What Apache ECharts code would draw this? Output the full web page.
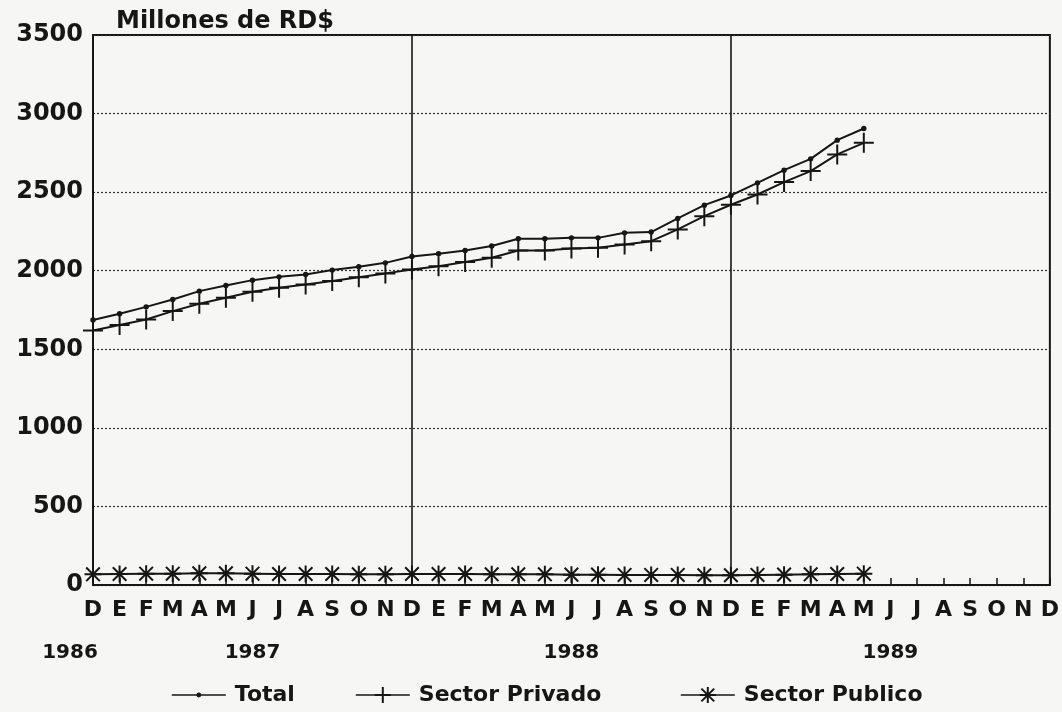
<!DOCTYPE html>
<html>
<head>
<meta charset="utf-8">
<script src="https://cdn.jsdelivr.net/npm/echarts@6/dist/echarts.min.js"></script>
<style>
  html, body { margin: 0; padding: 0; background: #f6f6f4; }
  #chart { width: 1062px; height: 712px; }
</style>
</head>
<body>
<div id="chart"></div>
<script>
// Month labels: Dec 1986, then Jan–Dec 1987, 1988, 1989 (Spanish initials)
const months = ['D','E','F','M','A','M','J','J','A','S','O','N','D',
                'E','F','M','A','M','J','J','A','S','O','N','D',
                'E','F','M','A','M','J','J','A','S','O','N','D'];
const yearLabels = ['1986','','','','','','1987','','','','','','',
                    '','','','','','1988','','','','','','',
                    '','','','','','1989','','','','','',''];
const yTicks = [0, 500, 1000, 1500, 2000, 2500, 3000, 3500];

const total = [1686,1726,1770,1817,1870,1906,1940,1961,1976,2004,2025,2050,2090,
               2108,2129,2157,2203,2203,2209,2209,2241,2246,2333,2417,2479,
               2559,2640,2712,2831,2905];
const privado = [1620,1654,1690,1743,1790,1828,1866,1891,1913,1934,1959,1983,2008,
                 2029,2055,2082,2129,2129,2142,2146,2167,2188,2263,2347,2420,
                 2485,2564,2634,2740,2814];
const publico = [68,70,72,72,74,74,72,70,70,70,68,68,70,
                 70,70,68,68,68,66,66,64,64,64,62,62,
                 64,66,68,70,72];
const seriesNames = ['Total', 'Sector Privado', 'Sector Publico'];
const dividers = [12, 24];

const INK = '#161616';
const FONT = '"DejaVu Sans", "Liberation Sans", Arial, sans-serif';

const dotPath = 'path://M-1,-1 M1,1 M-0.3,0 A0.3,0.3 0 1 0 0.3,0 A0.3,0.3 0 1 0 -0.3,0 Z';
const plusPath = 'path://M0,-1 L0,1 M-1,0 L1,0';
const starPath = 'path://M0,-1 L0,1 M-0.8,-0.8 L0.8,0.8 M-0.8,0.8 L0.8,-0.8 M-1,0 L1,0';

const legendLefts = [166, 350, 675];
function makeLegend(name, i) {
  return {
    top: 679, left: legendLefts[i],
    itemWidth: 54, itemHeight: 20,
    lineStyle: { width: 1.6 },
    textStyle: { fontFamily: FONT, fontWeight: 'bold', fontSize: 22, color: INK, padding: [0, 0, 0, 4] },
    data: [name]
  };
}

const chart = echarts.init(document.getElementById('chart'), null, { renderer: 'canvas' });

chart.setOption({
  backgroundColor: '#f6f6f4',
  animation: false,
  title: {
    text: 'Millones de RD$',
    left: 111, top: 5,
    textStyle: { fontFamily: FONT, fontWeight: 'bold', fontSize: 24, color: INK }
  },
  grid: {
    left: 93, right: 12, top: 35, bottom: 127,
    show: true, borderColor: INK, borderWidth: 2, backgroundColor: 'transparent'
  },
  legend: seriesNames.map(makeLegend),
  xAxis: [{
    type: 'category',
    data: months,
    boundaryGap: false,
    axisLine: { show: true, lineStyle: { color: INK, width: 2 } },
    axisTick: { show: true, inside: true, length: 7, interval: 0, lineStyle: { color: INK, width: 1.5 } },
    axisLabel: { interval: 0, margin: 14, fontFamily: FONT, fontWeight: 'bold', fontSize: 22, color: INK },
    splitLine: { show: false }
  }, {
    type: 'category',
    data: yearLabels,
    boundaryGap: false,
    position: 'bottom',
    offset: 46,
    axisLine: { show: false },
    axisTick: { show: false },
    axisLabel: {
      interval: 0, margin: 12,
      formatter: function (v, i) { return i === 0 ? '{first|' + v + '}' : v; },
      fontFamily: FONT, fontWeight: 'bold', fontSize: 20, color: INK,
      rich: { first: { fontFamily: FONT, fontWeight: 'bold', fontSize: 20, color: INK, padding: [0, 46, 0, 0] } }
    },
    splitLine: { show: false }
  }],
  yAxis: {
    type: 'value',
    min: 0, max: 3500, interval: 500,
    axisLine: { show: true, lineStyle: { color: INK, width: 2 } },
    axisTick: { show: false },
    axisLabel: {
      margin: 10, fontFamily: FONT, fontWeight: 'bold', fontSize: 24, color: INK,
      formatter: function (v) { return yTicks.indexOf(v) >= 0 ? String(v) : ''; }
    },
    splitLine: { show: true, lineStyle: { color: '#333', width: 1.2, type: [2, 2] } }
  },
  series: [{
    name: seriesNames[0],
    type: 'line',
    data: total,
    symbol: dotPath, symbolSize: 18, symbolKeepAspect: true,
    itemStyle: { color: INK },
    lineStyle: { color: INK, width: 2 },
    markLine: {
      silent: true, symbol: ['none', 'none'],
      label: { show: false },
      lineStyle: { color: INK, width: 1.6, type: 'solid' },
      data: dividers.map(function (d) { return { xAxis: d }; })
    }
  }, {
    name: seriesNames[1],
    type: 'line',
    data: privado,
    symbol: plusPath, symbolSize: 20, symbolKeepAspect: true,
    itemStyle: { color: INK, borderColor: INK, borderWidth: 2 },
    lineStyle: { color: INK, width: 2 }
  }, {
    name: seriesNames[2],
    type: 'line',
    data: publico,
    symbol: starPath, symbolSize: 17, symbolKeepAspect: true,
    itemStyle: { color: INK, borderColor: INK, borderWidth: 2 },
    lineStyle: { color: INK, width: 2 }
  }]
});
</script>
</body>
</html>
